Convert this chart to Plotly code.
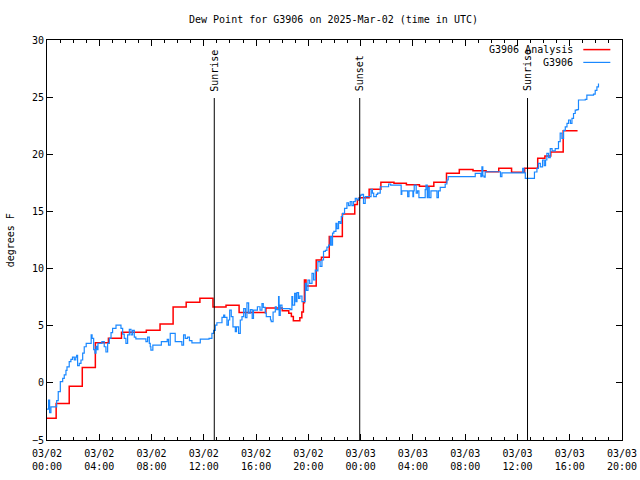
import plotly.graph_objects as go
from datetime import datetime, timedelta

BASE = datetime(2025, 3, 2)

# Analysis (red), hours since 2025-03-02 00:00 UTC and dew point (F), held until next point
red_hours = [0, 0.7, 1.7, 2.7, 3.7, 4.7, 5.7, 7.6, 8.65, 9.65, 10.65, 11.7, 12.7, 13.7, 14.7,
             16.75, 18.0, 18.5, 18.7, 18.85, 19.35, 19.5, 19.62, 19.7, 19.82, 20.6, 21.0, 21.6,
             22.6, 23.55, 23.75, 23.9, 24.65, 25.55, 26.55, 27.5, 28.5, 29.6, 30.57, 31.55,
             32.6, 33.6, 34.57, 35.55, 36.55, 37.55, 38.1, 38.55, 39.5, 40.6]
red_vals = [-3.1, -1.8, -0.3, 1.35, 3.5, 3.9, 4.42, 4.6, 5.15, 6.64, 7.05, 7.4, 6.64, 6.8, 6.15,
            6.55, 6.3, 6.08, 5.8, 5.44, 5.7, 6.2, 7.0, 9.0, 8.47, 10.75, 10.98, 12.8,
            14.77, 15.6, 16.0, 16.2, 16.93, 17.55, 17.46, 17.34, 17.2, 17.55, 18.33, 18.67,
            18.55, 18.47, 18.77, 18.42, 18.77, 19.65, 19.85, 20.2, 22.06, 22.06]

# Station observations (blue)
blue_hours = [0.0, 0.12, 0.2, 0.3, 0.5, 0.74, 0.86, 1.02, 1.2, 1.32, 1.45, 1.53, 1.7, 1.83, 1.95,
              2.09, 2.2, 2.27, 2.34, 2.47, 2.6, 2.73, 2.85, 3.0, 3.29, 3.38, 3.45, 3.57, 3.67,
              3.75, 3.82, 3.9, 4.2, 4.38, 4.51, 4.64, 4.77, 4.9, 5.02, 5.28, 5.53, 5.66, 5.79,
              5.91, 6.04, 6.17, 6.3, 6.43, 6.55, 6.68, 6.8, 7.31, 7.57, 7.7, 7.83, 7.9, 7.95,
              8.1, 8.75, 9.2, 9.3, 9.43, 9.81, 10.32, 10.45, 10.58, 10.75, 10.9, 11.09, 11.73,
              12.4, 12.62, 12.75, 12.88, 13.0, 13.39, 13.52, 13.6, 13.77, 13.88, 13.98, 14.1,
              14.23, 14.41, 14.5, 14.66, 14.79, 14.92, 15.05, 15.18, 15.3, 15.43, 15.56, 15.7,
              15.8, 15.94, 16.1, 16.3, 16.45, 16.55, 16.7, 16.78, 16.95, 17.1, 17.16, 17.3,
              17.47, 17.55, 17.72, 17.76, 17.85, 17.98, 18.49, 18.6, 18.74, 18.8, 18.95, 19.05,
              19.13, 19.25, 19.35, 19.51, 19.71, 19.76, 19.85, 19.97, 20.1, 20.28, 20.4, 20.53,
              20.65, 20.73, 20.9, 21.04, 21.16, 21.3, 21.42, 21.55, 21.68, 21.75, 21.85, 21.95,
              22.11, 22.2, 22.31, 22.42, 22.52, 22.62, 22.77, 22.95, 23.07, 23.2, 23.33, 23.45,
              23.59, 23.72, 23.85, 23.97, 24.1, 24.22, 24.35, 24.5, 24.74, 24.8, 24.9, 25.0,
              25.2, 25.3, 25.5, 25.9, 26.14, 26.3, 27.03, 27.1, 27.15, 27.54, 27.6, 27.7, 27.95,
              28.0, 28.05, 28.1, 28.25, 28.35, 28.46, 28.9, 28.94, 29.0, 29.1, 29.15, 29.25,
              29.38, 29.75, 29.84, 29.95, 30.09, 30.35, 30.47, 30.6, 30.7, 32.64, 32.77, 33.1,
              33.2, 33.28, 33.35, 33.45, 33.53, 34.55, 34.7, 34.81, 36.34, 36.4, 36.5, 36.6,
              37.23, 37.3, 37.49, 37.6, 37.75, 37.92, 38.05, 38.15, 38.25, 38.38, 38.51, 38.65,
              38.89, 39.14, 39.27, 39.4, 39.53, 39.66, 39.79, 39.91, 40.05, 40.17, 40.29, 40.42,
              40.55, 40.67, 41.19, 41.31, 41.82, 41.95, 42.08, 42.2]
blue_vals = [-2.3, -1.5, -2.6, -2.1, -2.1, -1.56, -0.77, 0.1, 0.4, 0.7, 1.1, 1.4, 1.85, 2.06, 2.25,
             2.0, 2.25, 2.4, 1.5, 1.7, 2.0, 2.6, 3.16, 3.46, 3.46, 4.2, 3.9, 2.9, 2.6,
             3.2, 2.9, 3.46, 3.6, 3.16, 2.7, 3.46, 3.9, 4.4, 4.77, 5.06, 5.06, 4.77, 4.27,
             3.9, 3.46, 4.2, 4.68, 4.2, 4.6, 4.0, 3.85, 3.85, 3.6, 4.0, 3.46, 3.16, 2.87,
             3.3, 3.6, 3.8, 3.3, 4.33, 3.6, 3.3, 4.2, 3.9, 4.0, 3.7, 3.5, 3.83,
             3.9, 4.33, 4.6, 5.06, 5.26, 5.73, 5.93, 5.73, 5.06, 5.5, 6.37, 5.8,
             4.9, 4.47, 4.9, 4.33, 5.5, 5.8, 6.5, 5.7, 7.0, 6.1, 6.4, 5.65,
             6.37, 6.37, 6.66, 6.37, 6.93, 6.6, 6.1, 5.8, 5.8, 5.5, 5.35, 6.2,
             6.66, 6.4, 7.54, 5.9, 6.8, 6.5, 6.5, 6.4, 7.54, 6.8, 7.83, 7.1,
             7.89, 7.4, 7.6, 7.1, 7.1, 8.71, 8.1, 9.0, 8.71, 9.58, 9.0, 9.87,
             9.8, 10.6, 10.2, 10.75, 11.5, 11.6, 11.87, 12.06, 12.8, 12.06, 13.1, 13.25,
             13.96, 13.5, 14.1, 13.96, 14.54, 14.83, 15.27, 15.76, 15.5, 15.85, 15.5, 15.85,
             16.15, 16.0, 16.15, 16.43, 16.5, 15.7, 16.3, 16.3, 16.29, 16.93, 16.6, 16.29,
             16.5, 16.6, 17.16, 17.16, 17.4, 17.3, 17.3, 16.5, 16.8, 16.8, 16.3, 16.8, 16.8,
             16.3, 16.8, 17.3, 16.6, 16.8, 16.2, 16.2, 16.9, 17.3, 16.2, 17.1, 16.2,
             16.8, 16.8, 16.2, 16.8, 17.1, 17.1, 17.4, 17.75, 18.04, 18.04, 18.33, 18.33,
             18.04, 18.9, 18.1, 18.0, 18.47, 18.47, 18.04, 18.38, 18.38, 18.77, 18.38, 17.9,
             17.9, 18.45, 18.77, 19.2, 18.9, 19.5, 19.0, 19.5, 20.08, 19.7, 20.5, 20.3,
             20.5, 21.1, 21.85, 21.4, 22.1, 22.4, 22.7, 23.0, 22.7, 23.14, 23.57, 23.87,
             23.9, 24.75, 24.8, 25.18, 25.27, 25.6, 25.9, 26.2]

event_hours = [12.8, 23.93, 36.77]
event_labels = ["Sunrise", "Sunset", "Sunrise"]

y_ticks = [-5, 0, 5, 10, 15, 20, 25, 30]


def to_time(h):
    return BASE + timedelta(hours=h)


FONT = "DejaVu Sans Mono"
RED = "#ff0000"
BLUE = "#1a88ff"

fig = go.Figure()
fig.add_trace(go.Scatter(x=[to_time(h) for h in red_hours], y=red_vals, mode="lines",
                         line=dict(color=RED, width=1.5, shape="hv"), name="G3906 Analysis",
                         showlegend=False, hoverinfo="skip"))
fig.add_trace(go.Scatter(x=[to_time(h) for h in blue_hours], y=blue_vals, mode="lines",
                         line=dict(color=BLUE, width=1.2, shape="hv"), name="G3906",
                         showlegend=False, hoverinfo="skip"))

for h, lab in zip(event_hours, event_labels):
    fig.add_shape(type="line", xref="x", yref="paper", x0=to_time(h), x1=to_time(h),
                  y0=0, y1=0.855, line=dict(color="black", width=1))
    fig.add_annotation(x=to_time(h), xref="x", y=0.866, yref="paper", text=lab,
                       textangle=-90, showarrow=False, xanchor="center", yanchor="bottom",
                       font=dict(family=FONT, size=10, color="black"))

# gnuplot-style legend (text, then sample line)
for i, (name, col) in enumerate([("G3906 Analysis", RED), ("G3906", BLUE)]):
    yp = 0.976 - i * 0.032
    fig.add_annotation(x=0.9188, y=yp, xref="paper", yref="paper", text=name,
                       showarrow=False, xanchor="right", yanchor="middle",
                       font=dict(family=FONT, size=10, color="black"))
    fig.add_shape(type="line", xref="paper", yref="paper", x0=0.9327, x1=0.9797,
                  y0=yp, y1=yp, line=dict(color=col, width=1.2 if i else 1.5))

fig.add_annotation(x=-0.0638, y=0.5, xref="paper", yref="paper", text="degrees F",
                   textangle=-90, showarrow=False, xanchor="center", yanchor="middle",
                   font=dict(family=FONT, size=10, color="black"))

fig.add_annotation(x=0.498, y=1.05, xref="paper", yref="paper",
                   text="Dew Point for G3906 on 2025-Mar-02 (time in UTC)",
                   showarrow=False, xanchor="center", yanchor="middle",
                   font=dict(family=FONT, size=10, color="black"))

fig.update_layout(
    width=640, height=480,
    margin=dict(l=47, r=18, t=40, b=40, autoexpand=False),
    paper_bgcolor="white", plot_bgcolor="white",
    font=dict(family=FONT, size=10, color="black"),
    hovermode=False,
    xaxis=dict(range=[to_time(0), to_time(44)], type="date", tick0=to_time(0),
               dtick=4 * 3600 * 1000, tickformat="%m/%d<br>%H:%M", ticks="inside",
               ticklen=6, tickcolor="black", showline=True, linecolor="black", linewidth=1,
               mirror="allticks", showgrid=False, zeroline=False, automargin=False,
               ticklabelstandoff=4,
               minor=dict(dtick=3600 * 1000, ticks="inside", ticklen=3, tickcolor="black",
                          showgrid=False),
               tickfont=dict(family=FONT, size=10, color="black")),
    yaxis=dict(range=[-5, 30], tickvals=y_ticks, ticks="inside", ticklen=6,
               tickcolor="black", showline=True, linecolor="black", linewidth=1,
               mirror="allticks", showgrid=False, zeroline=False, automargin=False,
               tickfont=dict(family=FONT, size=10, color="black")),
)

fig.write_html("out.html", config={"displayModeBar": False},
               post_script="document.body.style.margin='0';document.body.style.overflow='hidden';")
